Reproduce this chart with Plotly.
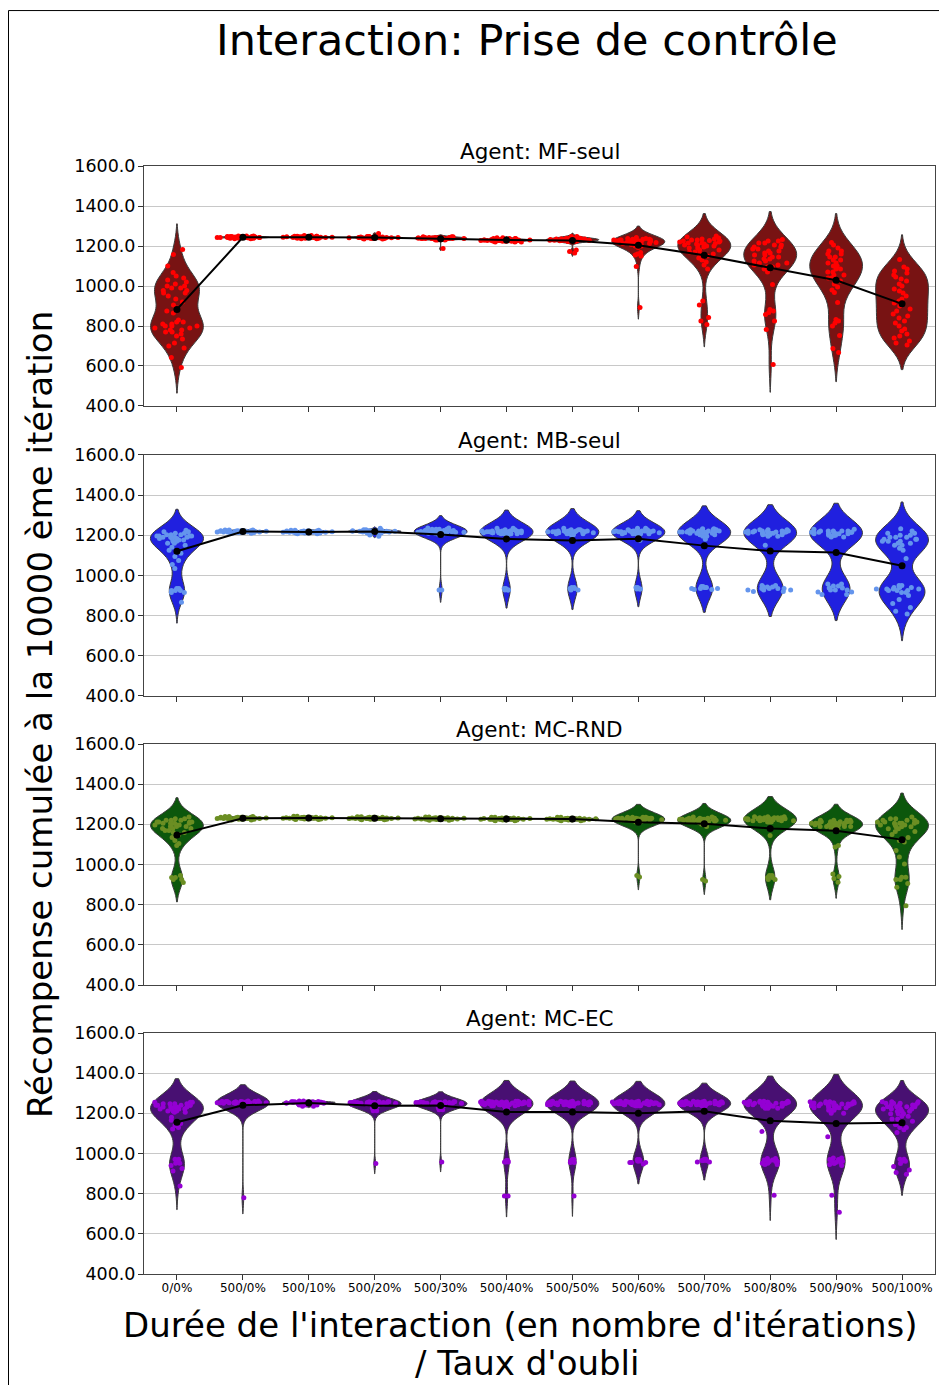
import numpy as np
import plotly.graph_objects as go

# Forgetting-rate conditions (interaction length / forgetting rate)
CATEGORIES = ["0/0%", "500/0%", "500/10%", "500/20%", "500/30%", "500/40%",
              "500/50%", "500/60%", "500/70%", "500/80%", "500/90%", "500/100%"]

AGENTS = ["MF-seul", "MB-seul", "MC-RND", "MC-EC"]

# Cumulative reward after 10000 iterations, one list of (value, run count) per condition
REWARD_MF = [
    [(1183, 1), (1158, 1), (1100, 1), (1067, 1), (1050, 1), (1040, 1), (1030, 1), (1020, 1), (1010, 1),
     (1000, 2), (990, 2), (978, 2), (965, 2), (950, 1), (935, 1), (920, 1), (905, 1), (890, 1), (875, 1),
     (865, 1), (830, 1), (820, 2), (810, 2), (800, 3), (790, 2), (780, 2), (770, 2), (760, 1), (750, 1),
     (735, 1), (715, 1), (700, 1), (690, 1), (642, 1), (592, 1)],
    [(1236, 2), (1239, 4), (1241, 6), (1243, 8), (1245, 7), (1247, 5), (1250, 3)],
    [(1236, 2), (1239, 4), (1242, 7), (1244, 9), (1246, 7), (1249, 4), (1252, 2)],
    [(1235, 2), (1238, 5), (1241, 7), (1243, 8), (1245, 6), (1248, 4), (1262, 1)],
    [(1230, 3), (1234, 5), (1237, 8), (1240, 8), (1243, 5), (1246, 3), (1187, 1)],
    [(1220, 3), (1224, 5), (1227, 7), (1230, 9), (1233, 6), (1237, 4), (1241, 2)],
    [(1222, 3), (1226, 5), (1229, 7), (1232, 8), (1235, 6), (1239, 4), (1248, 2), (1180, 1), (1172, 1),
     (1165, 1)],
    [(1242, 1), (1238, 2), (1234, 3), (1230, 4), (1226, 5), (1222, 5), (1218, 4), (1213, 3), (1208, 2),
     (1200, 2), (1192, 1), (1168, 1), (1160, 1), (1155, 1), (1150, 1), (1097, 1), (892, 1)],
    [(1250, 1), (1245, 1), (1240, 1), (1235, 2), (1230, 2), (1228, 1), (1225, 2), (1220, 2), (1215, 2),
     (1212, 1), (1210, 2), (1205, 2), (1200, 2), (1195, 1), (1190, 2), (1180, 2), (1170, 2), (1160, 2),
     (1150, 1), (1140, 1), (1130, 1), (1120, 1), (1105, 1), (1085, 1), (925, 1), (905, 1), (842, 1),
     (825, 1), (808, 1)],
    [(1233, 1), (1225, 2), (1215, 2), (1205, 2), (1195, 2), (1185, 2), (1175, 2), (1165, 2), (1155, 2),
     (1145, 2), (1135, 2), (1125, 2), (1115, 2), (1105, 2), (1095, 2), (1085, 1), (1070, 1), (1008, 1),
     (883, 1), (875, 1), (867, 1), (858, 1), (825, 1), (783, 1), (608, 1)],
    [(1217, 1), (1205, 1), (1190, 1), (1175, 2), (1160, 2), (1145, 2), (1130, 2), (1115, 2), (1100, 2),
     (1085, 2), (1070, 2), (1055, 2), (1040, 2), (1025, 1), (1010, 1), (995, 1), (980, 1), (967, 1),
     (917, 1), (833, 1), (825, 1), (815, 1), (800, 1), (753, 1), (688, 1), (667, 1)],
    [(1133, 1), (1095, 1), (1085, 1), (1075, 1), (1065, 1), (1055, 1), (1045, 1), (1035, 1), (1025, 1),
     (1010, 1), (1000, 1), (985, 1), (975, 1), (965, 1), (950, 1), (935, 1), (925, 1), (915, 1), (900, 1),
     (885, 1), (875, 1), (860, 1), (850, 1), (840, 1), (825, 1), (815, 1), (800, 1), (785, 1), (775, 1),
     (760, 1), (750, 1), (740, 1), (725, 1), (715, 1), (705, 1)],
]

REWARD_MB = [
    [(1225, 1), (1218, 2), (1210, 2), (1203, 3), (1196, 4), (1190, 4), (1184, 3), (1177, 2), (1170, 2),
     (1160, 2), (1150, 1), (1140, 1), (1125, 1), (1110, 1), (1095, 1), (1075, 1), (1055, 1), (1035, 1),
     (935, 2), (925, 3), (915, 2), (867, 1)],
    [(1210, 2), (1214, 5), (1217, 8), (1220, 8), (1223, 6), (1227, 3)],
    [(1208, 2), (1212, 5), (1215, 8), (1218, 8), (1221, 6), (1225, 3)],
    [(1195, 1), (1202, 1), (1212, 4), (1216, 7), (1220, 9), (1223, 7), (1228, 3), (1235, 1)],
    [(1205, 3), (1210, 5), (1215, 8), (1219, 9), (1224, 7), (1230, 4), (1236, 2), (928, 2)],
    [(1203, 3), (1208, 5), (1213, 7), (1218, 9), (1222, 7), (1228, 3), (1235, 2), (935, 2), (928, 3)],
    [(1203, 3), (1208, 5), (1213, 7), (1218, 9), (1222, 6), (1228, 3), (1235, 1), (940, 2), (935, 2),
     (928, 2)],
    [(1203, 3), (1208, 5), (1213, 7), (1218, 9), (1222, 7), (1228, 3), (1235, 2), (1175, 1), (940, 2),
     (932, 3)],
    [(1195, 2), (1203, 4), (1210, 6), (1216, 7), (1222, 6), (1228, 4), (1233, 2), (1180, 1), (945, 2),
     (940, 3), (935, 3), (930, 2)],
    [(1195, 2), (1203, 4), (1210, 6), (1216, 7), (1222, 6), (1228, 3), (1150, 1), (950, 2), (942, 3),
     (935, 4), (928, 3), (920, 2)],
    [(1192, 2), (1200, 4), (1208, 6), (1215, 7), (1222, 5), (1230, 2), (958, 2), (948, 2), (938, 3),
     (928, 3), (918, 2), (905, 2)],
    [(1233, 1), (1222, 1), (1210, 2), (1200, 2), (1190, 3), (1180, 3), (1170, 3), (1160, 2), (1150, 2),
     (1135, 1), (1125, 1), (1085, 1), (950, 2), (940, 3), (932, 4), (925, 3), (915, 2), (900, 1),
     (880, 1), (860, 1), (840, 1), (822, 1), (808, 1)],
]

REWARD_RND = [
    [(1237, 1), (1228, 2), (1220, 3), (1212, 4), (1205, 4), (1197, 4), (1190, 3), (1180, 3), (1170, 2),
     (1160, 2), (1148, 1), (1135, 1), (1120, 1), (1105, 1), (1095, 1), (945, 1), (935, 2), (925, 2),
     (910, 1)],
    [(1222, 2), (1226, 5), (1229, 8), (1232, 8), (1235, 6), (1239, 3)],
    [(1224, 2), (1227, 5), (1230, 8), (1233, 8), (1236, 5), (1240, 2)],
    [(1223, 2), (1226, 5), (1229, 8), (1232, 8), (1235, 5), (1238, 2)],
    [(1220, 2), (1224, 5), (1227, 8), (1230, 8), (1233, 5), (1237, 2)],
    [(1218, 2), (1222, 5), (1226, 8), (1229, 8), (1232, 5), (1236, 2)],
    [(1218, 2), (1222, 5), (1225, 8), (1228, 8), (1231, 5), (1235, 2)],
    [(1212, 2), (1218, 5), (1223, 8), (1227, 9), (1231, 7), (1236, 4), (945, 1), (938, 1)],
    [(1190, 1), (1200, 2), (1208, 4), (1215, 6), (1221, 8), (1226, 7), (1231, 5), (1237, 2), (925, 1),
     (918, 1)],
    [(1212, 3), (1218, 6), (1223, 8), (1228, 8), (1233, 5), (1238, 3), (1145, 1), (945, 2), (935, 2),
     (925, 2)],
    [(1170, 2), (1180, 3), (1190, 5), (1198, 7), (1206, 7), (1213, 6), (1220, 4), (1095, 1), (1087, 1),
     (953, 1), (940, 1), (930, 1), (912, 1)],
    [(1237, 1), (1228, 2), (1220, 3), (1212, 3), (1205, 4), (1197, 3), (1188, 3), (1178, 2), (1165, 2),
     (1150, 1), (1135, 1), (1120, 1), (1112, 1), (1070, 1), (1037, 1), (1003, 1), (937, 2), (925, 2),
     (905, 1), (887, 1), (795, 1)],
]

REWARD_EC = [
    [(1255, 3), (1248, 4), (1240, 5), (1232, 5), (1222, 4), (1212, 3), (1205, 2), (1180, 1), (1165, 1),
     (1150, 1), (1140, 1), (1130, 1), (1122, 1), (972, 2), (962, 1), (952, 2), (940, 1), (925, 1),
     (913, 1), (838, 1)],
    [(1247, 3), (1250, 6), (1253, 9), (1256, 8), (1259, 5), (1262, 2), (780, 1)],
    [(1235, 2), (1242, 3), (1248, 6), (1252, 8), (1255, 9), (1258, 6), (1262, 2)],
    [(1213, 2), (1225, 2), (1235, 3), (1245, 6), (1250, 8), (1254, 8), (1258, 5), (950, 1)],
    [(1218, 2), (1228, 2), (1238, 3), (1245, 6), (1250, 8), (1254, 8), (1258, 5), (958, 1)],
    [(1225, 2), (1238, 6), (1243, 8), (1248, 10), (1252, 10), (1256, 8), (1260, 5), (965, 2), (958, 3),
     (788, 2)],
    [(1238, 5), (1243, 8), (1248, 9), (1252, 10), (1256, 8), (1260, 4), (970, 2), (963, 2), (955, 2),
     (788, 1)],
    [(1238, 5), (1243, 8), (1248, 9), (1252, 10), (1256, 8), (1260, 4), (970, 2), (963, 3), (955, 3),
     (948, 1)],
    [(1238, 5), (1243, 8), (1248, 9), (1252, 10), (1256, 8), (1260, 4), (972, 2), (965, 3), (958, 2)],
    [(1225, 3), (1235, 5), (1243, 7), (1250, 8), (1255, 7), (1260, 4), (1110, 1), (975, 2), (968, 3),
     (960, 3), (952, 2), (945, 2), (792, 1)],
    [(1200, 2), (1215, 3), (1228, 5), (1238, 6), (1246, 7), (1252, 6), (1258, 4), (1083, 1), (978, 2),
     (970, 2), (962, 2), (955, 2), (950, 1), (945, 1), (940, 1), (792, 1), (708, 1)],
    [(1258, 3), (1250, 4), (1242, 4), (1233, 4), (1222, 4), (1210, 3), (1198, 3), (1185, 2), (1172, 2),
     (1160, 2), (1145, 2), (1130, 2), (1118, 1), (1105, 1), (972, 2), (962, 2), (950, 1), (935, 1),
     (918, 1), (905, 1), (897, 1)],
]

REWARDS = [REWARD_MF, REWARD_MB, REWARD_RND, REWARD_EC]

# Violin body colours (desaturated) and swarm point colours, per agent
VIOLIN_FILL = ["#781313", "#2020df", "#0c570c", "#481072"]
POINT_COLOR = ["#ff0000", "#6495ed", "#6b8e23", "#9400d3"]
EDGE_COLOR = "#3a3a3a"

Y_TICKS = [400, 600, 800, 1000, 1200, 1400, 1600]
Y_TICK_TEXT = [f"{v:.1f}" for v in Y_TICKS]

FONT = "DejaVu Sans"

# Vertical placement of the four panels (paper fraction)
DOMAINS = [(0.7834, 1.0), (0.5217, 0.7392), (0.2608, 0.4783), (0.0, 0.2175)]

MARKER_PX = 5          # swarm marker diameter
PX_PER_UNIT = 0.2      # vertical scale of a panel (240 px for 1200 reward units)
VIOLIN_PX = 53         # full violin width in pixels (0.8 of a category)


def expand(pairs):
    vals = np.array([v for v, _ in pairs], dtype=float)
    counts = np.array([c for _, c in pairs], dtype=int)
    return np.repeat(vals, counts)


def swarm_spread(vals):
    """Horizontal spread needed so the densest band of runs fits side by side."""
    band = MARKER_PX / PX_PER_UNIT
    crowd = max(int(np.sum(np.abs(vals - v) <= band / 2)) for v in vals)
    return float(min(1.0, crowd * MARKER_PX * 1.3 / VIOLIN_PX))


fig = go.Figure()

for row, (agent, dists) in enumerate(zip(AGENTS, REWARDS)):
    sfx = "" if row == 0 else str(row + 1)
    xa, ya = "x" + sfx, "y" + sfx
    samples = [expand(p) for p in dists]

    # violin bodies (Scott bandwidth, cut = 2 bandwidths)
    for cat, vals in zip(CATEGORIES, samples):
        bw = max(vals.std(ddof=1), 1.0) * len(vals) ** (-0.2)
        fig.add_trace(go.Violin(
            x=[cat] * len(vals), y=vals, xaxis=xa, yaxis=ya,
            width=0.8, scalemode="width", bandwidth=bw, spanmode="soft",
            fillcolor=VIOLIN_FILL[row], line=dict(color=EDGE_COLOR, width=1),
            points=False, box_visible=False, meanline_visible=False,
            opacity=1, showlegend=False, hoverinfo="skip",
        ))

    # individual runs spread across each violin
    for cat, vals in zip(CATEGORIES, samples):
        bw = max(vals.std(ddof=1), 1.0) * len(vals) ** (-0.2)
        fig.add_trace(go.Violin(
            x=[cat] * len(vals), y=vals, xaxis=xa, yaxis=ya,
            width=0.8, scalemode="width", bandwidth=bw, spanmode="soft",
            fillcolor="rgba(0,0,0,0)", line=dict(color="rgba(0,0,0,0)", width=0),
            points="all", pointpos=0, jitter=swarm_spread(vals),
            marker=dict(color=POINT_COLOR[row], size=MARKER_PX, line=dict(width=0)),
            box_visible=False, meanline_visible=False,
            showlegend=False, hoveron="points",
        ))

    # mean reward per condition
    means = [float(v.mean()) for v in samples]
    fig.add_trace(go.Scatter(
        x=CATEGORIES, y=means, xaxis=xa, yaxis=ya, mode="lines+markers",
        line=dict(color="black", width=2), marker=dict(color="black", size=7),
        showlegend=False,
    ))

    d0, d1 = DOMAINS[row]
    fig.layout["xaxis" + sfx] = dict(
        domain=[0, 1], anchor=ya, type="category",
        categoryorder="array", categoryarray=CATEGORIES, range=[-0.5, 11.5],
        showticklabels=(row == 3), ticks="outside", ticklen=5, tickcolor="#333",
        ticklabelstandoff=-2,
        showline=True, mirror=True, linecolor="#444", linewidth=1,
        showgrid=False, zeroline=False,
        tickfont=dict(family=FONT, size=12, color="black"),
    )
    fig.layout["yaxis" + sfx] = dict(
        domain=[d0, d1], anchor=xa, range=[400, 1600],
        tickmode="array", tickvals=Y_TICKS, ticktext=Y_TICK_TEXT,
        ticks="outside", ticklen=5, tickcolor="#333",
        ticklabelstandoff=-1,
        showline=True, mirror=True, linecolor="#444", linewidth=1,
        showgrid=True, gridcolor="#c8c8c8", gridwidth=1, zeroline=False,
        tickfont=dict(family=FONT, size=17.5, color="black"),
    )

    fig.add_annotation(
        text=f"Agent: {agent}", xref="paper", yref="paper", x=0.5, y=d1,
        xanchor="center", yanchor="bottom", yshift=0, showarrow=False,
        font=dict(family=FONT, size=21.5, color="black"),
    )

# Figure titles
fig.add_annotation(
    text="Interaction: Prise de contrôle", xref="paper", yref="paper",
    x=0.4842, y=1.1137, xanchor="center", yanchor="middle", showarrow=False,
    font=dict(family=FONT, size=43, color="black"),
)
fig.add_annotation(
    text="Récompense cumulée à la 10000 ème itération", xref="paper", yref="paper",
    x=-0.1315, y=0.5054, xanchor="center", yanchor="middle", textangle=-90,
    showarrow=False, font=dict(family=FONT, size=34, color="black"),
)
fig.add_annotation(
    text="Durée de l'interaction (en nombre d'itérations)", xref="paper", yref="paper",
    x=0.4753, y=-0.046, xanchor="center", yanchor="middle", showarrow=False,
    font=dict(family=FONT, size=34, color="black"),
)
fig.add_annotation(
    text="/ Taux d'oubli", xref="paper", yref="paper",
    x=0.4842, y=-0.0803, xanchor="center", yanchor="middle", showarrow=False,
    font=dict(family=FONT, size=34, color="black"),
)

# Figure frame
fig.add_shape(
    type="rect", xref="paper", yref="paper",
    x0=-0.1713, x1=1.05, y0=-0.15, y1=1.1403,
    line=dict(color="black", width=1), fillcolor="rgba(0,0,0,0)", layer="below",
)

fig.update_layout(
    width=939, height=1385,
    margin=dict(l=144, r=4, t=166, b=111),
    paper_bgcolor="white", plot_bgcolor="white",
    violinmode="overlay", showlegend=False,
    font=dict(family=FONT, color="black"),
)

fig.write_html("out.html")
